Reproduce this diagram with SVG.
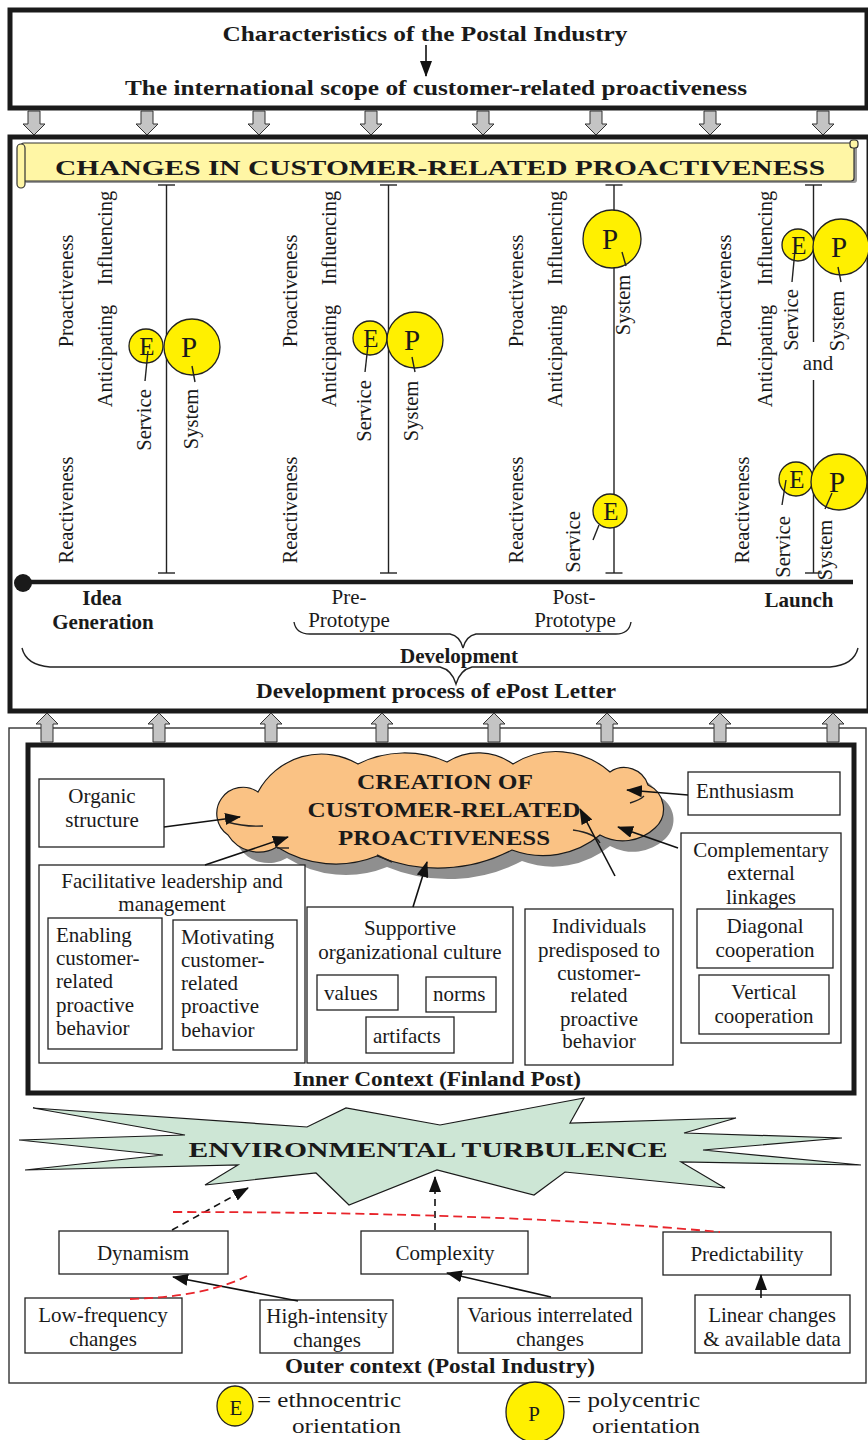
<svg xmlns="http://www.w3.org/2000/svg" xmlns:xlink="http://www.w3.org/1999/xlink" width="868" height="1440" viewBox="0 0 868 1440">
  <style>
    .t { font-family: "Liberation Serif", "Times New Roman", serif; font-size: 21px; fill: #1a1a1a; }
    .r { font-size: 20.5px; }
    .b { font-weight: bold; }
    .m { text-anchor: middle; }
    .box { fill: #fff; stroke: #222; stroke-width: 1.3; }
    .frame { fill: none; stroke: #1a1a1a; stroke-width: 5; }
    .ln { stroke: #222; stroke-width: 1.4; fill: none; }
    .arr { stroke: #111; stroke-width: 1.6; fill: none; marker-end: url(#ah); }
    .dash { stroke-dasharray: 7 5; }
    .red { stroke: #E8252B; stroke-width: 1.8; stroke-dasharray: 9 5; fill: none; }
    .yc { fill: #FFF000; stroke: #222; stroke-width: 1.3; }
    .ga { fill: #C4C4C4; stroke: #333; stroke-width: 1; }
    .le { font-size: 25px; }
    .lp { font-size: 29px; }
  </style>
  <defs>
    <marker id="ah" markerUnits="userSpaceOnUse" markerWidth="16" markerHeight="12" refX="15" refY="6" orient="auto">
      <path d="M0,0 L16,6 L0,12 Z" fill="#111"/>
    </marker>
    <path id="downArrow" d="M-6,0 H6 V13 H11 L0,24 L-11,13 H-6 Z"/>
    <path id="upArrow" d="M0,0 L11,11 H6 V29 H-6 V11 H-11 Z"/>
    <path id="cloud" d="M228,835 A26,26 0 0 1 258,792 A72,72 0 0 1 358,764 A104,104 0 0 1 447,762 A59,59 0 0 1 513,764 A81,81 0 0 1 610,772 A25,25 0 0 1 648,785 A26,26 0 0 1 655,828 A47,47 0 0 1 600,835 A89,89 0 0 1 512,850 A160,160 0 0 1 377,856 A110,110 0 0 1 277,847 A36,36 0 0 1 228,835 Z"/>
  </defs>

  <rect width="868" height="1440" fill="#fff"/>

  <!-- header: industry characteristics -->
  <g id="header">
    <rect x="10" y="10" width="857" height="98" class="frame"/>
    <text class="t b m" x="425" y="41" font-size="27" textLength="405" lengthAdjust="spacingAndGlyphs">Characteristics of the Postal Industry</text>
    <text class="t b m" x="436" y="95" font-size="27" textLength="622" lengthAdjust="spacingAndGlyphs">The international scope of customer-related proactiveness</text>
    <line x1="426" y1="45" x2="426" y2="76" class="arr"/>
  </g>

  <!-- downward block arrows -->
  <g id="down-arrows" class="ga">
    <use xlink:href="#downArrow" transform="translate(34,111)"/>
    <use xlink:href="#downArrow" transform="translate(147,111)"/>
    <use xlink:href="#downArrow" transform="translate(259,111)"/>
    <use xlink:href="#downArrow" transform="translate(371,111)"/>
    <use xlink:href="#downArrow" transform="translate(483,111)"/>
    <use xlink:href="#downArrow" transform="translate(596,111)"/>
    <use xlink:href="#downArrow" transform="translate(710,111)"/>
    <use xlink:href="#downArrow" transform="translate(823,111)"/>
  </g>

  <!-- development process panel -->
  <g id="process-panel">
    <rect x="10" y="137" width="859" height="574" class="frame"/>
  </g>

  <g id="banner">
    <rect x="24" y="145" width="833" height="38" rx="3" fill="#9a9a9a"/>
    <rect x="21" y="143" width="833" height="38" rx="3" fill="#FFF6A5" stroke="#333" stroke-width="1.2"/>
    <rect x="17" y="144" width="8" height="44" rx="4" fill="#FFF6A5" stroke="#333" stroke-width="1.2"/>
    <rect x="850" y="140" width="8" height="8" rx="3" fill="#FFF6A5" stroke="#333" stroke-width="1.2"/>
    <text class="t b m" x="440" y="175" font-size="37" textLength="770" lengthAdjust="spacingAndGlyphs">CHANGES IN CUSTOMER-RELATED PROACTIVENESS</text>
  </g>

  <!-- stage 1: idea generation -->
  <g id="stage-idea">
    <line x1="166.5" y1="185" x2="166.5" y2="573" class="ln"/>
    <line x1="158" y1="185" x2="175" y2="185" class="ln" stroke-width="2"/>
    <line x1="158" y1="573" x2="175" y2="573" class="ln" stroke-width="2"/>
    <text class="t r m" transform="translate(73,291) rotate(-90)">Proactiveness</text>
    <text class="t r m" transform="translate(73,510) rotate(-90)">Reactiveness</text>
    <text class="t r m" transform="translate(112,356) rotate(-90)">Anticipating</text>
    <text class="t r m" transform="translate(112,238) rotate(-90)">Influencing</text>
    <circle cx="146" cy="346" r="17" class="yc"/>
    <circle cx="192" cy="347" r="28" class="yc"/>
    <text class="t le m" x="147" y="355">E</text>
    <text class="t lp m" x="189" y="357">P</text>
    <line x1="148" y1="351" x2="145" y2="381" class="ln"/>
    <line x1="192" y1="366" x2="195" y2="382" class="ln"/>
    <text class="t r m" transform="translate(151,420) rotate(-90)">Service</text>
    <text class="t r m" transform="translate(198,419) rotate(-90)">System</text>
  </g>

  <!-- stage 2: pre-prototype -->
  <g id="stage-pre">
    <line x1="388.5" y1="185" x2="388.5" y2="573" class="ln"/>
    <line x1="380" y1="185" x2="397" y2="185" class="ln" stroke-width="2"/>
    <line x1="380" y1="573" x2="397" y2="573" class="ln" stroke-width="2"/>
    <text class="t r m" transform="translate(297,291) rotate(-90)">Proactiveness</text>
    <text class="t r m" transform="translate(297,510) rotate(-90)">Reactiveness</text>
    <text class="t r m" transform="translate(336,356) rotate(-90)">Anticipating</text>
    <text class="t r m" transform="translate(336,238) rotate(-90)">Influencing</text>
    <circle cx="370" cy="338" r="17" class="yc"/>
    <circle cx="415" cy="340" r="28" class="yc"/>
    <text class="t le m" x="371" y="347">E</text>
    <text class="t lp m" x="412" y="350">P</text>
    <line x1="368" y1="345" x2="365" y2="372" class="ln"/>
    <line x1="412" y1="357" x2="415" y2="372" class="ln"/>
    <text class="t r m" transform="translate(371,411) rotate(-90)">Service</text>
    <text class="t r m" transform="translate(418,411) rotate(-90)">System</text>
  </g>

  <!-- stage 3: post-prototype -->
  <g id="stage-post">
    <line x1="614" y1="185" x2="614" y2="573" class="ln"/>
    <line x1="605.5" y1="185" x2="622.5" y2="185" class="ln" stroke-width="2"/>
    <line x1="605.5" y1="573" x2="622.5" y2="573" class="ln" stroke-width="2"/>
    <text class="t r m" transform="translate(523,291) rotate(-90)">Proactiveness</text>
    <text class="t r m" transform="translate(523,510) rotate(-90)">Reactiveness</text>
    <text class="t r m" transform="translate(562,356) rotate(-90)">Anticipating</text>
    <text class="t r m" transform="translate(562,238) rotate(-90)">Influencing</text>
    <circle cx="612" cy="239" r="29" class="yc"/>
    <circle cx="610" cy="511" r="17" class="yc"/>
    <text class="t lp m" x="610" y="249">P</text>
    <text class="t le m" x="611" y="520">E</text>
    <line x1="622" y1="252" x2="626" y2="266" class="ln"/>
    <line x1="599" y1="525" x2="593" y2="540" class="ln"/>
    <text class="t r m" transform="translate(630,305) rotate(-90)">System</text>
    <text class="t r m" transform="translate(580,542) rotate(-90)">Service</text>
  </g>

  <!-- stage 4: launch -->
  <g id="stage-launch">
    <line x1="813.5" y1="185" x2="813.5" y2="342" class="ln"/>
    <line x1="813.5" y1="380" x2="813.5" y2="573" class="ln"/>
    <line x1="805" y1="185" x2="822" y2="185" class="ln" stroke-width="2"/>
    <line x1="805" y1="573" x2="822" y2="573" class="ln" stroke-width="2"/>
    <text class="t r m" transform="translate(731,291) rotate(-90)">Proactiveness</text>
    <text class="t r m" transform="translate(749,510) rotate(-90)">Reactiveness</text>
    <text class="t r m" transform="translate(772,356) rotate(-90)">Anticipating</text>
    <text class="t r m" transform="translate(772,238) rotate(-90)">Influencing</text>
    <circle cx="798" cy="245" r="16" class="yc"/>
    <circle cx="841" cy="247" r="28" class="yc"/>
    <text class="t le m" x="799" y="254">E</text>
    <text class="t lp m" x="839" y="257">P</text>
    <line x1="795" y1="250" x2="792" y2="282" class="ln"/>
    <line x1="838" y1="267" x2="841" y2="282" class="ln"/>
    <text class="t r m" transform="translate(798,320) rotate(-90)">Service</text>
    <text class="t r m" transform="translate(844,321) rotate(-90)">System</text>
    <text class="t m" x="818" y="370" font-size="24">and</text>
    <circle cx="796" cy="479" r="17" class="yc"/>
    <circle cx="839" cy="482" r="28" class="yc"/>
    <text class="t le m" x="797" y="488">E</text>
    <text class="t lp m" x="837" y="492">P</text>
    <line x1="786" y1="480" x2="782" y2="505" class="ln"/>
    <line x1="832" y1="493" x2="825" y2="509" class="ln"/>
    <text class="t r m" transform="translate(790,547) rotate(-90)">Service</text>
    <text class="t r m" transform="translate(832,550) rotate(-90)">System</text>
  </g>

  <!-- timeline axis and phase labels -->
  <g id="timeline">
    <line x1="22" y1="582" x2="853" y2="582" stroke="#1a1a1a" stroke-width="4.5"/>
    <circle cx="23" cy="583" r="9" fill="#1a1a1a"/>
    <text class="t b m" x="102" y="605" font-size="20">Idea</text>
    <text class="t b m" x="103" y="629" font-size="20">Generation</text>
    <text class="t m" x="349" y="604" font-size="20">Pre-</text>
    <text class="t m" x="349" y="627" font-size="20">Prototype</text>
    <text class="t m" x="574" y="604" font-size="20">Post-</text>
    <text class="t m" x="575" y="627" font-size="20">Prototype</text>
    <text class="t b m" x="799" y="607" font-size="20">Launch</text>
    <path d="M294,622 Q296,634 310,634 L450,634 Q460,636 463,648 Q466,636 476,634 L616,634 Q629,634 631,622" class="ln" stroke-width="1.3"/>
    <text class="t b m" x="459" y="663" textLength="118" lengthAdjust="spacingAndGlyphs">Development</text>
    <path d="M22,648 Q26,665 50,667 L440,667 Q452,670 456,684 Q460,670 472,667 L830,667 Q854,665 858,648" class="ln" stroke-width="1.3"/>
    <text class="t b m" x="436" y="698" font-size="24" textLength="360" lengthAdjust="spacingAndGlyphs">Development process of ePost Letter</text>
  </g>

  <!-- context frames -->
  <g id="outer-context">
    <rect x="9" y="728" width="857" height="655" fill="none" stroke="#333" stroke-width="1.4"/>
    <text class="t b m" x="440" y="1373" font-size="25" textLength="310" lengthAdjust="spacingAndGlyphs">Outer context (Postal Industry)</text>
  </g>
  <g id="inner-context">
    <rect x="28" y="745" width="826" height="348" class="frame"/>
    <text class="t b m" x="437" y="1086" font-size="25" textLength="288" lengthAdjust="spacingAndGlyphs">Inner Context (Finland Post)</text>
  </g>

  <!-- upward block arrows -->
  <g id="up-arrows" class="ga">
    <use xlink:href="#upArrow" transform="translate(47,713)"/>
    <use xlink:href="#upArrow" transform="translate(159,713)"/>
    <use xlink:href="#upArrow" transform="translate(271,713)"/>
    <use xlink:href="#upArrow" transform="translate(382,713)"/>
    <use xlink:href="#upArrow" transform="translate(494,713)"/>
    <use xlink:href="#upArrow" transform="translate(607,713)"/>
    <use xlink:href="#upArrow" transform="translate(720,713)"/>
    <use xlink:href="#upArrow" transform="translate(833,713)"/>
  </g>

  <!-- central cloud -->
  <g id="cloud-proactiveness">
    <use xlink:href="#cloud" transform="translate(10,11)" fill="#8f8f8f"/>
    <use xlink:href="#cloud" fill="#FAC284" stroke="#1a1a1a" stroke-width="1.2"/>
    <g class="ln" stroke-width="1.1">
      <path d="M227,822 Q245,827 263,826"/>
      <path d="M277,848 L289,848"/>
      <path d="M377,855 Q385,859 392,862"/>
      <path d="M573,830 Q595,833 600,843"/>
      <path d="M630,803 Q640,800 644,796"/>
    </g>
    <text class="t b m" x="445" y="789" font-size="29" textLength="176" lengthAdjust="spacingAndGlyphs">CREATION OF</text>
    <text class="t b m" x="444" y="817" font-size="29" textLength="273" lengthAdjust="spacingAndGlyphs">CUSTOMER-RELATED</text>
    <text class="t b m" x="444" y="845" font-size="29" textLength="212" lengthAdjust="spacingAndGlyphs">PROACTIVENESS</text>
  </g>

  <g id="organic-structure">
    <rect x="39" y="779" width="125" height="68" class="box"/>
    <text class="t m" x="102" y="803">Organic</text>
    <text class="t m" x="102" y="827">structure</text>
  </g>

  <g id="facilitative-leadership">
    <rect x="39" y="865" width="266" height="198" class="box"/>
    <text class="t m" x="172" y="888">Facilitative leadership and</text>
    <text class="t m" x="172" y="911">management</text>
  </g>
  <g id="enabling">
    <rect x="48" y="918" width="114" height="131" class="box"/>
    <text class="t" x="56" y="942">Enabling</text>
    <text class="t" x="56" y="965">customer-</text>
    <text class="t" x="56" y="988">related</text>
    <text class="t" x="56" y="1012">proactive</text>
    <text class="t" x="56" y="1035">behavior</text>
  </g>
  <g id="motivating">
    <rect x="173" y="920" width="124" height="130" class="box"/>
    <text class="t" x="181" y="944">Motivating</text>
    <text class="t" x="181" y="967">customer-</text>
    <text class="t" x="181" y="990">related</text>
    <text class="t" x="181" y="1013">proactive</text>
    <text class="t" x="181" y="1037">behavior</text>
  </g>

  <g id="supportive-culture">
    <rect x="307" y="907" width="206" height="156" class="box"/>
    <text class="t m" x="410" y="935">Supportive</text>
    <text class="t m" x="410" y="959">organizational culture</text>
  </g>
  <g id="values">
    <rect x="317" y="975" width="81" height="35" class="box"/>
    <text class="t" x="324" y="1000">values</text>
  </g>
  <g id="norms">
    <rect x="426" y="977" width="70" height="35" class="box"/>
    <text class="t" x="433" y="1001">norms</text>
  </g>
  <g id="artifacts">
    <rect x="366" y="1017" width="88" height="36" class="box"/>
    <text class="t" x="373" y="1043">artifacts</text>
  </g>

  <g id="individuals">
    <rect x="525" y="909" width="148" height="156" class="box"/>
    <text class="t m" x="599" y="933">Individuals</text>
    <text class="t m" x="599" y="957">predisposed to</text>
    <text class="t m" x="599" y="980">customer-</text>
    <text class="t m" x="599" y="1002">related</text>
    <text class="t m" x="599" y="1026">proactive</text>
    <text class="t m" x="599" y="1048">behavior</text>
  </g>

  <g id="enthusiasm">
    <rect x="688" y="772" width="152" height="43" class="box"/>
    <text class="t" x="696" y="798">Enthusiasm</text>
  </g>

  <g id="external-linkages">
    <rect x="681" y="833" width="160" height="210" class="box"/>
    <text class="t m" x="761" y="857">Complementary</text>
    <text class="t m" x="761" y="880">external</text>
    <text class="t m" x="761" y="904">linkages</text>
  </g>
  <g id="diagonal">
    <rect x="697" y="909" width="136" height="59" class="box"/>
    <text class="t m" x="765" y="933">Diagonal</text>
    <text class="t m" x="765" y="957">cooperation</text>
  </g>
  <g id="vertical">
    <rect x="699" y="975" width="130" height="59" class="box"/>
    <text class="t m" x="764" y="999">Vertical</text>
    <text class="t m" x="764" y="1023">cooperation</text>
  </g>

  <!-- environmental turbulence burst -->
  <g id="turbulence">
    <polygon points="33,1108 307,1127 346,1108 440,1125 584,1098 570,1123 736,1118 684,1133 842,1138 703,1150 861,1165 681,1162 725,1188 565,1172 534,1195 437,1170 349,1205 316,1173 205,1185 238,1165 25,1170 163,1155 19,1140 185,1135" fill="#CDE6D5" stroke="#1a1a1a" stroke-width="1.2" stroke-linejoin="miter"/>
    <text class="t b m" x="428" y="1157" font-size="36" textLength="479" lengthAdjust="spacingAndGlyphs">ENVIRONMENTAL TURBULENCE</text>
  </g>

  <g id="dynamism">
    <rect x="59" y="1231" width="169" height="43" class="box"/>
    <text class="t m" x="143" y="1260">Dynamism</text>
  </g>
  <g id="complexity">
    <rect x="361" y="1231" width="167" height="43" class="box"/>
    <text class="t m" x="445" y="1260">Complexity</text>
  </g>
  <g id="predictability">
    <rect x="663" y="1232" width="168" height="43" class="box"/>
    <text class="t m" x="747" y="1261">Predictability</text>
  </g>
  <g id="low-frequency">
    <rect x="25" y="1298" width="157" height="55" class="box"/>
    <text class="t m" x="103" y="1322">Low-frequency</text>
    <text class="t m" x="103" y="1346">changes</text>
  </g>
  <g id="high-intensity">
    <rect x="260" y="1300" width="133" height="53" class="box"/>
    <text class="t m" x="327" y="1323">High-intensity</text>
    <text class="t m" x="327" y="1347">changes</text>
  </g>
  <g id="interrelated">
    <rect x="458" y="1298" width="184" height="55" class="box"/>
    <text class="t m" x="550" y="1322">Various interrelated</text>
    <text class="t m" x="550" y="1346">changes</text>
  </g>
  <g id="linear-changes">
    <rect x="695" y="1295" width="155" height="58" class="box"/>
    <text class="t m" x="772" y="1322">Linear changes</text>
    <text class="t m" x="772" y="1346">&amp; available data</text>
  </g>

  <!-- connectors -->
  <g id="connectors">
    <line x1="164" y1="827" x2="240" y2="817" class="arr"/>
    <line x1="205" y1="865" x2="288" y2="837" class="arr"/>
    <line x1="413" y1="907" x2="427" y2="862" class="arr"/>
    <line x1="615" y1="876" x2="580" y2="809" class="arr"/>
    <line x1="688" y1="795" x2="627" y2="790" class="arr"/>
    <line x1="678" y1="848" x2="618" y2="827" class="arr"/>
    <line x1="172" y1="1230" x2="248" y2="1188" class="arr dash"/>
    <line x1="435" y1="1230" x2="435" y2="1177" class="arr dash"/>
    <line x1="298" y1="1301" x2="173" y2="1277" class="arr"/>
    <line x1="551" y1="1297" x2="447" y2="1273" class="arr"/>
    <line x1="761" y1="1298" x2="761" y2="1275" class="arr"/>
    <path d="M173,1212 Q500,1212 720,1232" class="red"/>
    <path d="M130,1299 Q205,1297 247,1276" class="red"/>
  </g>

  <!-- legend -->
  <g id="legend">
    <ellipse cx="235" cy="1406" rx="18" ry="20" class="yc"/>
    <text class="t m" x="236" y="1415" font-size="23">E</text>
    <text class="t" x="257" y="1407" font-size="25" textLength="144" lengthAdjust="spacingAndGlyphs">= ethnocentric</text>
    <text class="t" x="292" y="1433" font-size="25" textLength="109" lengthAdjust="spacingAndGlyphs">orientation</text>
    <ellipse cx="535" cy="1412" rx="29" ry="30" class="yc"/>
    <text class="t m" x="534" y="1421" font-size="25">P</text>
    <text class="t" x="567" y="1407" font-size="25" textLength="133" lengthAdjust="spacingAndGlyphs">= polycentric</text>
    <text class="t" x="592" y="1433" font-size="25" textLength="108" lengthAdjust="spacingAndGlyphs">orientation</text>
  </g>
</svg>
